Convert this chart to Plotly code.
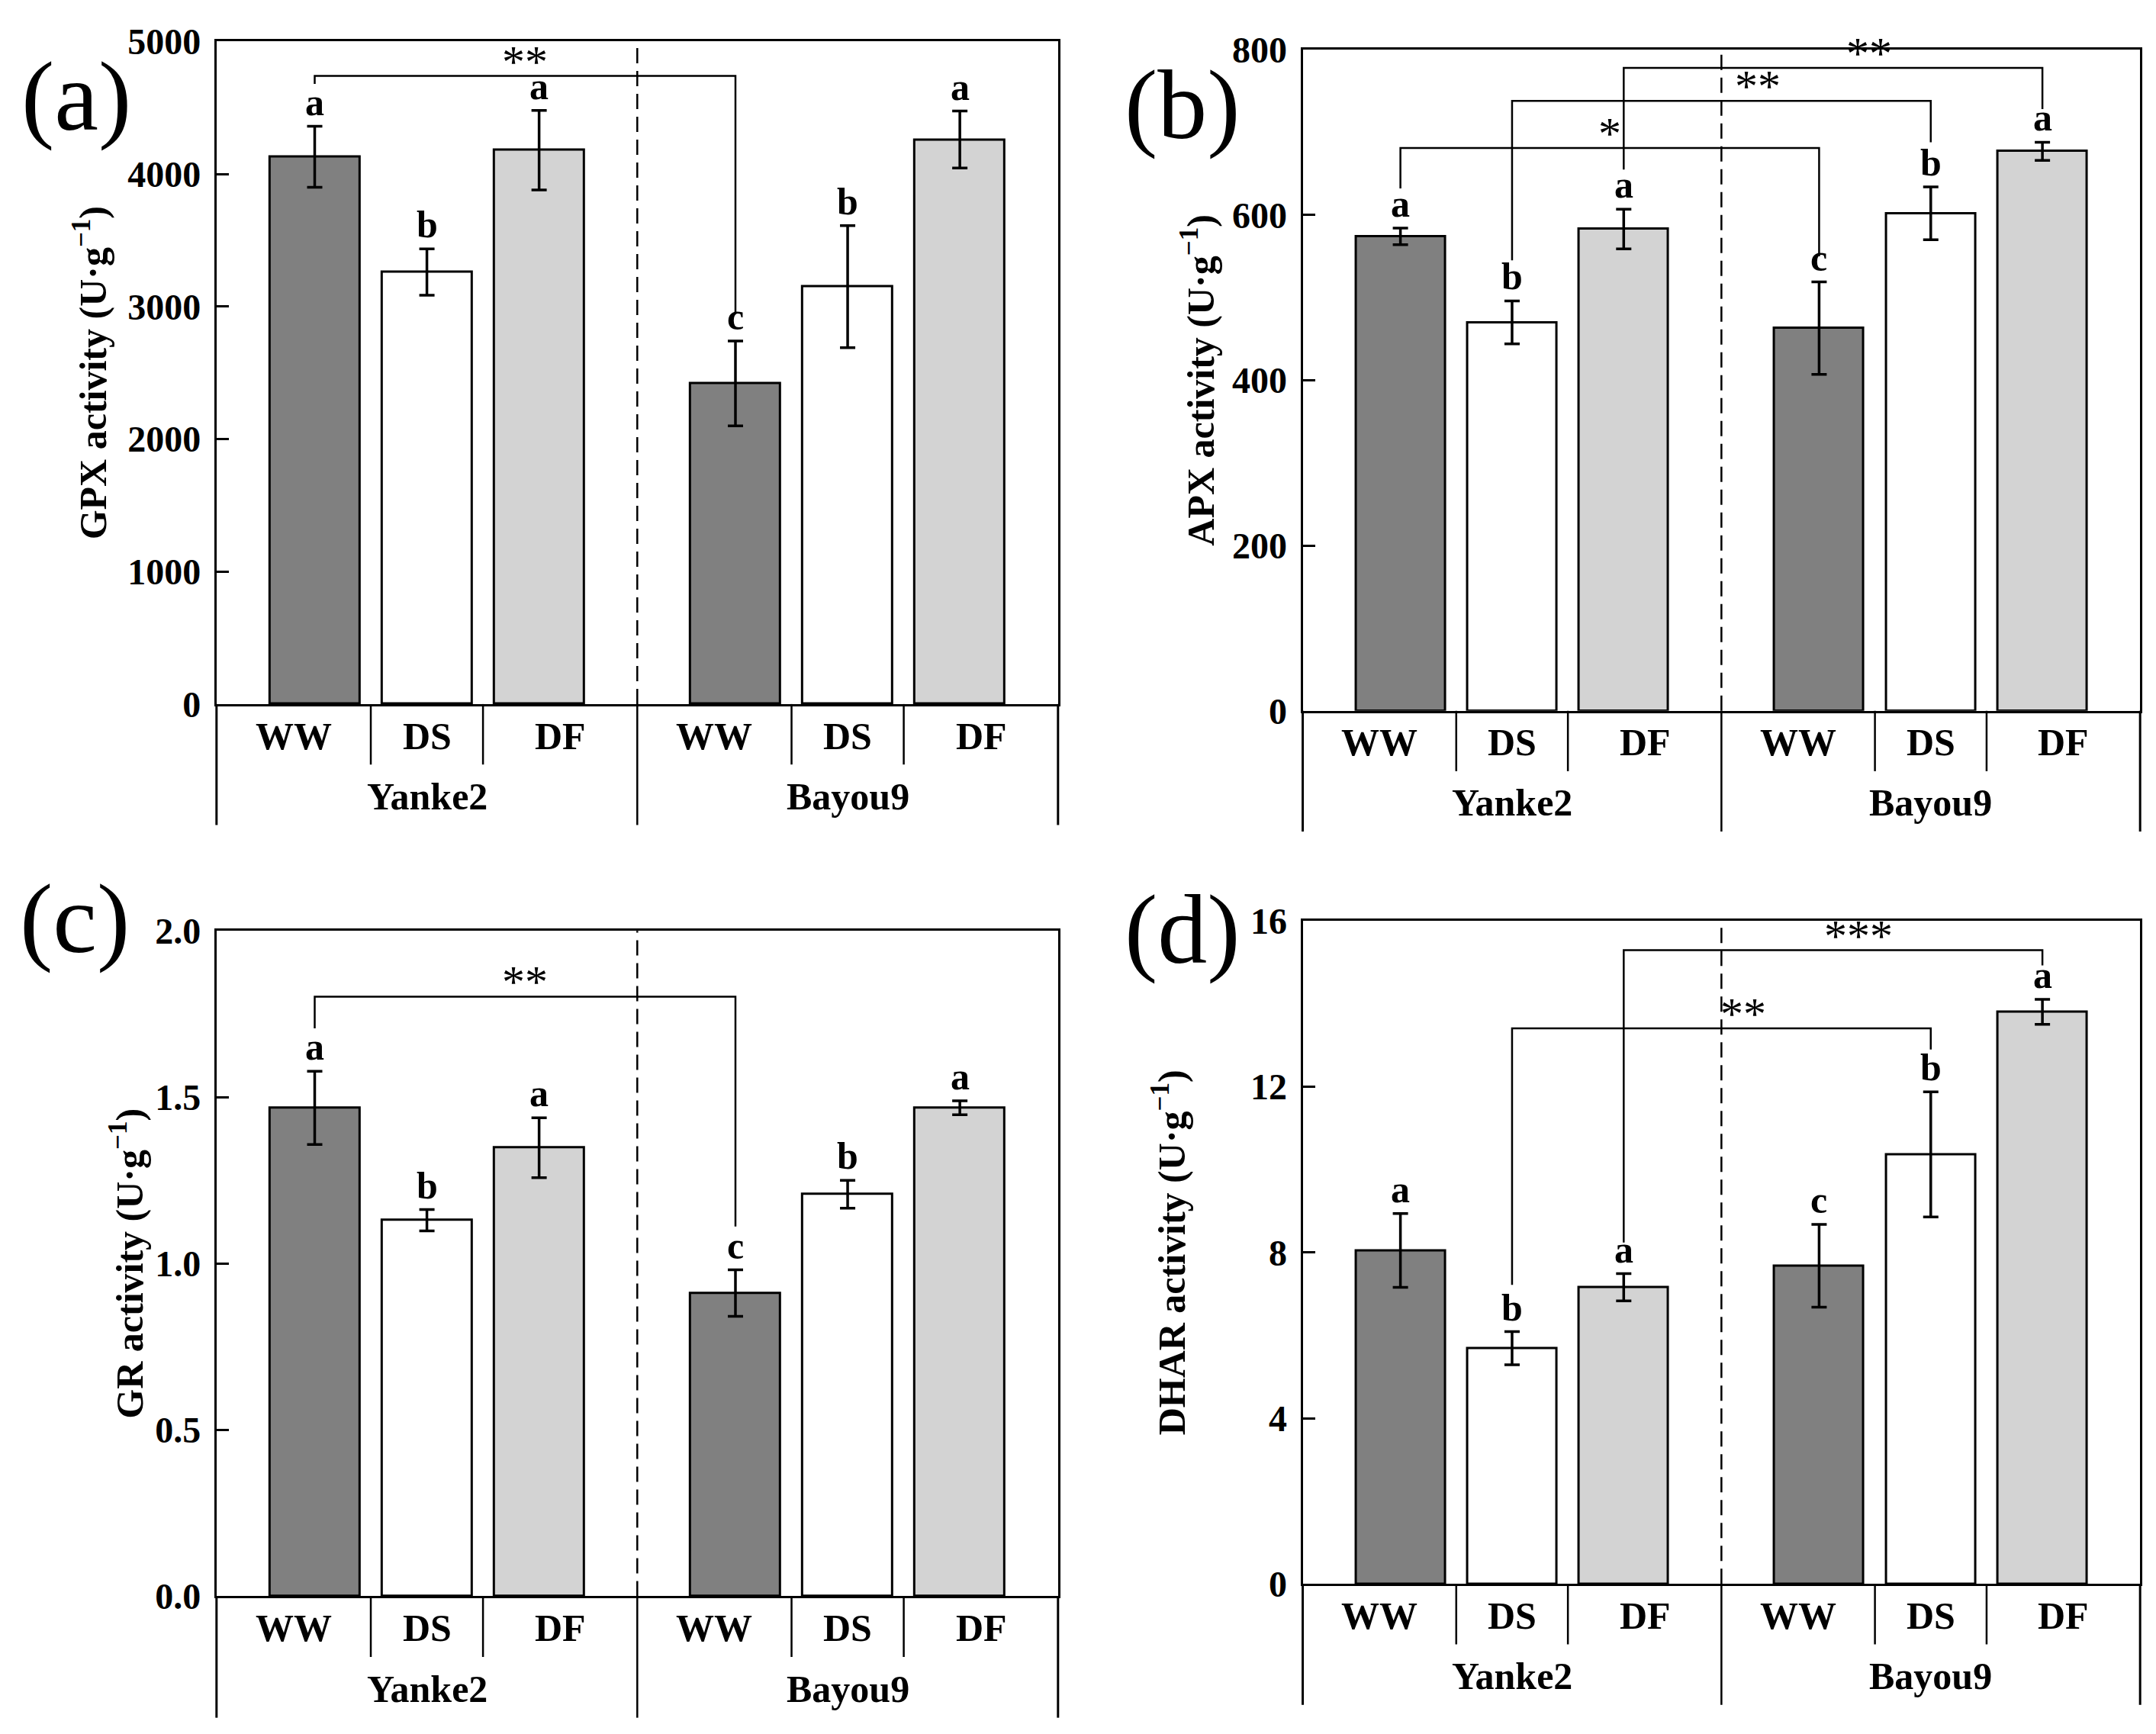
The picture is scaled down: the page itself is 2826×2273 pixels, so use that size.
import plotly.graph_objects as go

# bar positions: two cultivars x three treatments
groups = ["Yanke2", "Bayou9"]
treatments = ["WW", "DS", "DF"]
bar_x = [0, 1, 2, 3.75, 4.75, 5.75]
label_x = [-0.19, 1, 2.19, 3.56, 4.75, 5.94]  # centres of the category cells
group_x = [1, 4.75]

gpx = [4130, 3260, 4180, 2420, 3150, 4260]
gpx_err = [230, 175, 300, 320, 460, 215]
gpx_letters = ["a", "b", "a", "c", "b", "a"]

apx = [574, 470, 583, 463, 602, 677]
apx_err = [10, 26, 24, 56, 32, 11]
apx_letters = ["a", "b", "a", "c", "b", "a"]

gr = [1.468, 1.130, 1.348, 0.911, 1.208, 1.468]
gr_err = [0.11, 0.032, 0.09, 0.07, 0.042, 0.021]
gr_letters = ["a", "b", "a", "c", "b", "a"]

dhar = [8.05, 5.69, 7.16, 7.68, 10.37, 13.81]
dhar_err = [0.89, 0.40, 0.33, 1.0, 1.51, 0.30]
dhar_letters = ["a", "b", "a", "c", "b", "a"]

# significance brackets: (from bar, to bar, top, left end, right end, stars, star x)
gpx_brackets = [(0, 3, 4740, 4680, 2950, "**", 1.875)]
apx_brackets = [
    (0, 3, 681, 632, 550, "*", 1.875),
    (1, 4, 738, 545, 688, "**", 3.2),
    (2, 5, 778, 655, 728, "**", 4.2),
]
gr_brackets = [(0, 3, 1.802, 1.707, 1.111, "**", 1.875)]
dhar_brackets = [
    (1, 4, 13.41, 7.22, 12.90, "**", 3.07),
    (2, 5, 15.30, 8.24, 14.93, "***", 4.1),
]

panels = [
    dict(tag="(a)", title="GPX activity (U·g<sup>−1</sup>)", y=gpx, err=gpx_err,
         letters=gpx_letters, brackets=gpx_brackets, yrange=[0, 5000], dtick=1000,
         fmt="d", xdom=[0.0976, 0.4879], ydom=[0.5996, 0.9908], standoff=12,
         tagpos=(0.0327, 0.9585)),
    dict(tag="(b)", title="APX activity (U·g<sup>−1</sup>)", y=apx, err=apx_err,
         letters=apx_letters, brackets=apx_brackets, yrange=[0, 800], dtick=200,
         fmt="d", xdom=[0.6014, 0.9898], ydom=[0.5956, 0.9860], standoff=8,
         tagpos=(0.5455, 0.9535)),
    dict(tag="(c)", title="GR activity (U·g<sup>−1</sup>)", y=gr, err=gr_err,
         letters=gr_letters, brackets=gr_brackets, yrange=[0, 2.0], dtick=0.5,
         fmt=".1f", xdom=[0.0976, 0.4879], ydom=[0.0728, 0.4657], standoff=0,
         tagpos=(0.032, 0.473)),
    dict(tag="(d)", title="DHAR activity (U·g<sup>−1</sup>)", y=dhar, err=dhar_err,
         letters=dhar_letters, brackets=dhar_brackets, yrange=[0, 16], dtick=4,
         fmt="d", xdom=[0.6014, 0.9898], ydom=[0.0801, 0.4714], standoff=70,
         tagpos=(0.5455, 0.4665)),
]

FONT = "Liberation Serif, Times New Roman, serif"
bar_colors = ["#808080", "#ffffff", "#d3d3d3"] * 2
xrange = [-0.875, 6.625]
below = 0.1826  # depth of category box below the axis, in y-domain units

fig = go.Figure()
shapes = []
annotations = []

for k, p in enumerate(panels):
    n = "" if k == 0 else str(k + 1)
    xa, ya = "x" + n, "y" + n

    fig.add_trace(go.Bar(
        x=bar_x, y=p["y"], width=0.8, xaxis=xa, yaxis=ya,
        marker=dict(color=bar_colors, line=dict(color="black", width=3)),
        error_y=dict(type="data", array=p["err"], color="black", thickness=3.5, width=10),
        showlegend=False,
    ))

    # brackets
    for i, j, top, yl, yr, stars, sx in p["brackets"]:
        fig.add_trace(go.Scatter(
            x=[bar_x[i], bar_x[i], bar_x[j], bar_x[j]], y=[yl, top, top, yr],
            mode="lines", line=dict(color="black", width=2.5),
            xaxis=xa, yaxis=ya, showlegend=False, hoverinfo="skip",
        ))
        annotations.append(dict(
            x=sx, y=top, xref=xa, yref=ya, text=stars, showarrow=False,
            xanchor="center", yanchor="bottom", yshift=-16,
            font=dict(family=FONT, size=60, color="black"),
        ))

    # letters above error bars
    for xv, yv, ev, lt in zip(bar_x, p["y"], p["err"], p["letters"]):
        annotations.append(dict(
            x=xv, y=yv + ev, xref=xa, yref=ya, text="<b>%s</b>" % lt, showarrow=False,
            xanchor="center", yanchor="bottom", yshift=2,
            font=dict(family=FONT, size=50, color="black"),
        ))

    # dashed divider inside plot, solid below the axis
    shapes.append(dict(type="line", xref=xa, yref=ya + " domain", x0=2.875, x1=2.875,
                       y0=0, y1=1, line=dict(color="black", width=2.5, dash="20px,10px")))
    shapes.append(dict(type="line", xref=xa, yref=ya + " domain", x0=2.875, x1=2.875,
                       y0=0, y1=-below, line=dict(color="black", width=2.5)))
    for sx in [0.5, 1.5, 4.25, 5.25]:
        shapes.append(dict(type="line", xref=xa, yref=ya + " domain", x0=sx, x1=sx,
                           y0=0, y1=-below / 2, line=dict(color="black", width=2.5)))
    for ex in [0, 1]:
        shapes.append(dict(type="line", xref=xa + " domain", yref=ya + " domain",
                           x0=ex, x1=ex, y0=0, y1=-below, line=dict(color="black", width=3)))

    # category labels
    for xv, t in zip(label_x, treatments * 2):
        annotations.append(dict(
            x=xv, y=-0.048, xref=xa, yref=ya + " domain", text="<b>%s</b>" % t,
            showarrow=False, xanchor="center", yanchor="middle",
            font=dict(family=FONT, size=50, color="black"),
        ))
    for gx, g in zip(group_x, groups):
        annotations.append(dict(
            x=gx, y=-0.139, xref=xa, yref=ya + " domain", text="<b>%s</b>" % g,
            showarrow=False, xanchor="center", yanchor="middle",
            font=dict(family=FONT, size=50, color="black"),
        ))

    # panel tag
    annotations.append(dict(
        x=p["tagpos"][0], y=p["tagpos"][1], xref="paper", yref="paper", text=p["tag"],
        showarrow=False, xanchor="center", yanchor="middle",
        font=dict(family=FONT, size=130, color="black"),
    ))

    fig.update_layout(**{
        "xaxis" + n: dict(
            domain=p["xdom"], anchor=ya, range=xrange, showline=True, mirror=True,
            linecolor="black", linewidth=3, ticks="", showticklabels=False,
            showgrid=False, zeroline=False, fixedrange=True,
        ),
        "yaxis" + n: dict(
            domain=p["ydom"], anchor=xa, range=p["yrange"], dtick=p["dtick"],
            tickformat=p["fmt"], showline=True, mirror=True, linecolor="black",
            linewidth=3, ticks="inside", ticklen=16, tickwidth=3, tickcolor="black",
            ticklabelstandoff=8, showgrid=False, zeroline=False,
            tickfont=dict(family=FONT, size=48, color="black", weight="bold"),
            title=dict(text="<b>%s</b>" % p["title"], standoff=p["standoff"],
                       font=dict(family=FONT, size=50, color="black")),
        ),
    })

fig.update_layout(
    width=2826, height=2273, margin=dict(l=0, r=0, t=0, b=0),
    paper_bgcolor="white", plot_bgcolor="white", bargap=0,
    shapes=shapes, annotations=annotations,
)

fig.write_html("out.html")
